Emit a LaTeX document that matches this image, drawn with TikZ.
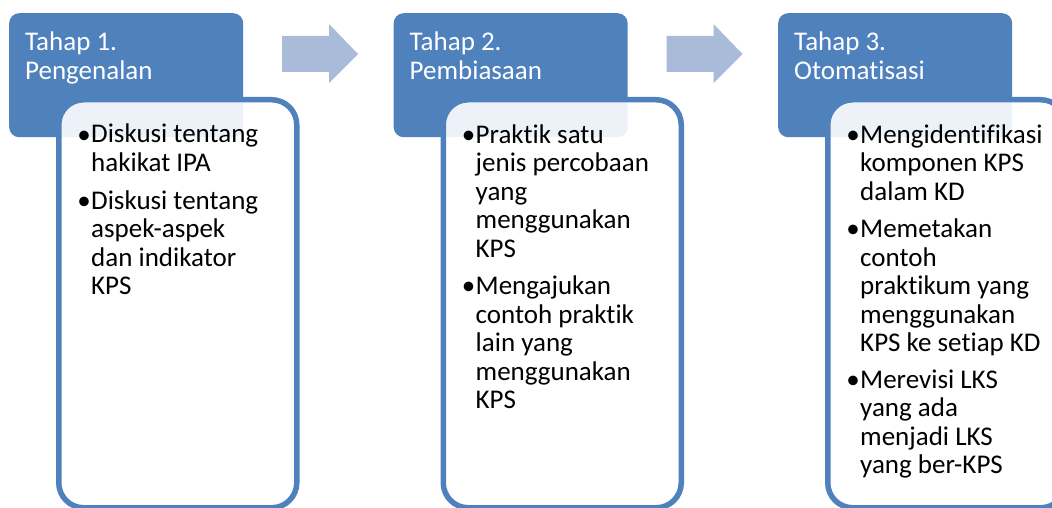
\documentclass[tikz,border=0pt]{standalone}
\usepackage{fontspec}
\setmainfont{Carlito}[Ligatures=NoCommon]
\definecolor{accent}{RGB}{79,129,189}
\definecolor{arrowc}{RGB}{170,187,217}
\tikzset{
  titlebox/.style={fill=accent, draw=none, rounded corners=10pt, minimum width=234pt, minimum height=124pt, anchor=north west, inner sep=0pt},
  bodybox/.style={draw=accent, line width=5.5pt, fill=white, fill opacity=0.9, rounded corners=25pt, minimum width=238pt, minimum height=408pt, anchor=north west, inner sep=0pt},
  ttext/.style={font=\fontsize{27}{28.5}\selectfont, text=white, align=left, anchor=base west, inner sep=0pt},
  btext/.style={font=\fontsize{27}{28.5}\selectfont, text=black, align=left, anchor=base west, inner sep=0pt},
  bul/.style={font=\fontsize{27}{28.5}\selectfont, text=black, anchor=base east, inner sep=0pt},
  blockarrow/.style={fill=arrowc, draw=none}
}
\begin{document}
\begin{tikzpicture}[x=1pt, y=-1pt]
\clip (0,0) rectangle (1052,508);
\useasboundingbox (0,0) rectangle (1052,508);

% block arrows
\fill[blockarrow] (282,36) -- (329,36) -- (329,24) -- (358,54) -- (329,83) -- (329,72) -- (282,72) -- cycle;
\fill[blockarrow] (666.5,36) -- (713.5,36) -- (713.5,24) -- (742.5,54) -- (713.5,83) -- (713.5,72) -- (666.5,72) -- cycle;

% panel 1 (text nodes anchored at the baseline of their last line)
\node[titlebox] (t1) at (9,13) {};
\node[bodybox] (b1) at (56,97) {};
\node[ttext] (tt1) at (25,79.5) {Tahap 1.\\Pengenalan};
\node[bul] (u1a) at (91,143) {•};
\node[btext] (i1a) at (91,171.5) {Diskusi tentang\\hakikat IPA};
\node[bul] (u1b) at (91,209) {•};
\node[btext] (i1b) at (91,294.5) {Diskusi tentang\\aspek-aspek\\dan indikator\\KPS};

% panel 2
\node[titlebox] (t2) at (393.5,13) {};
\node[bodybox] (b2) at (440.5,97) {};
\node[ttext] (tt2) at (409.5,79.5) {Tahap 2.\\Pembiasaan};
\node[bul] (u2a) at (475.5,143) {•};
\node[btext] (i2a) at (475.5,257) {Praktik satu\\jenis percobaan\\yang\\menggunakan\\KPS};
\node[bul] (u2b) at (475.5,294.5) {•};
\node[btext] (i2b) at (475.5,408.5) {Mengajukan\\contoh praktik\\lain yang\\menggunakan\\KPS};

% panel 3
\node[titlebox] (t3) at (778,13) {};
\node[bodybox] (b3) at (825,97) {};
\node[ttext] (tt3) at (794,79.5) {Tahap 3.\\Otomatisasi};
\node[bul] (u3a) at (860,143) {•};
\node[btext] (i3a) at (860,200) {Mengidentifikasi\\komponen KPS\\dalam KD};
\node[bul] (u3b) at (860,237.5) {•};
\node[btext] (i3b) at (860,351.5) {Memetakan\\contoh\\praktikum yang\\menggunakan\\KPS ke setiap KD};
\node[bul] (u3c) at (860,388) {•};
\node[btext] (i3c) at (860,473.5) {Merevisi LKS\\yang ada\\menjadi LKS\\yang ber-KPS};
\end{tikzpicture}
\end{document}
